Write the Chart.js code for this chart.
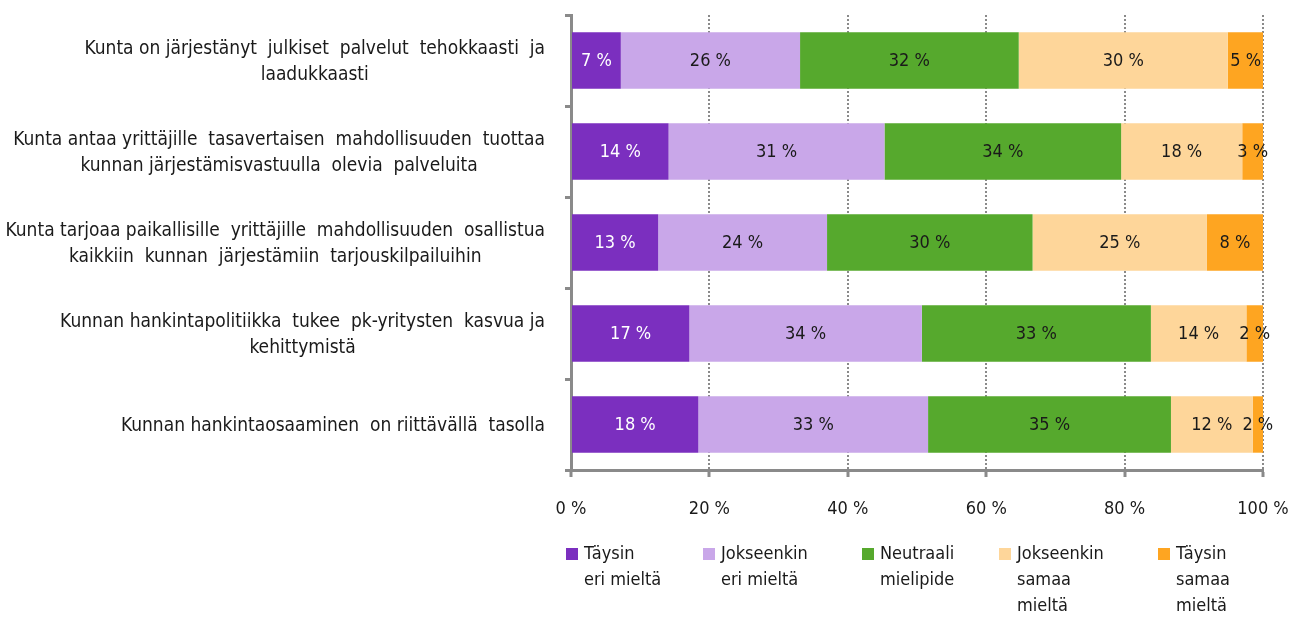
<!DOCTYPE html>
<html>
<head>
<meta charset="utf-8">
<script src="https://cdn.jsdelivr.net/npm/chart.js@4"></script>
<style>
  html, body { margin: 0; padding: 0; background: #fff; }
  #wrap { position: relative; width: 1303px; height: 617px; }
  #legend { position: absolute; top: 540px; left: 0; width: 1303px; height: 77px; }
  .item { position: absolute; top: 0; display: flex; align-items: flex-start; }
  .box { width: 12px; height: 12px; margin-top: 8px; margin-right: 6px; }
  .txt { font: 18px "Liberation Sans Narrow", "DejaVu Sans Condensed", sans-serif; line-height: 26px; color: #1a1a1a; }
</style>
</head>
<body>
<div id="wrap">
  <canvas id="chart" width="1303" height="617"></canvas>
  <div id="legend"></div>
</div>
<script>
const FONT = '"Liberation Sans Narrow", "DejaVu Sans Condensed", sans-serif'

const categories = [
  ["Kunta on järjestänyt  julkiset  palvelut  tehokkaasti  ja", "laadukkaasti"],
  ["Kunta antaa yrittäjille  tasavertaisen  mahdollisuuden  tuottaa", "kunnan järjestämisvastuulla  olevia  palveluita"],
  ["Kunta tarjoaa paikallisille  yrittäjille  mahdollisuuden  osallistua", "kaikkiin  kunnan  järjestämiin  tarjouskilpailuihin"],
  ["Kunnan hankintapolitiikka  tukee  pk-yritysten  kasvua ja", "kehittymistä"],
  ["Kunnan hankintaosaaminen  on riittävällä  tasolla"],
]

const seriesNames = [
  ["Täysin", "eri mieltä"],
  ["Jokseenkin", "eri mieltä"],
  ["Neutraali", "mielipide"],
  ["Jokseenkin", "samaa", "mieltä"],
  ["Täysin", "samaa", "mieltä"],
]
const seriesColors = ["#7b2fbf", "#c9a7e9", "#56a92d", "#fed69a", "#fea521"]

const taysinEri = [7.2, 14.1, 12.6, 17.1, 18.4]
const jokseenkinEri = [25.9, 31.2, 24.4, 33.6, 33.2]
const neutraali = [31.6, 34.2, 29.7, 33.1, 35.1]
const jokseenkinSamaa = [30.2, 17.5, 25.2, 13.8, 11.8]
const taysinSamaa = [5.2, 3.0, 8.1, 2.4, 1.5]

const xTicks = [0, 20, 40, 60, 80, 100]

const seriesValues = [taysinEri, jokseenkinEri, neutraali, jokseenkinSamaa, taysinSamaa]
const axisGrey = "#8a8a8a"

const valueLabels = {
  id: "valueLabels",
  afterDatasetsDraw(chart) {
    const ctx = chart.ctx
    ctx.save()
    ctx.font = `18px ${FONT}`
    ctx.textAlign = "center"
    ctx.textBaseline = "middle"
    chart.data.datasets.forEach((ds, di) => {
      const meta = chart.getDatasetMeta(di)
      meta.data.forEach((bar, i) => {
        const cx = (bar.x + bar.base) / 2
        ctx.fillStyle = di === 0 ? "#ffffff" : "#1a1a1a"
        ctx.fillText(`${Math.round(ds.data[i])} %`, cx, bar.y + 1)
      })
    })
    ctx.restore()
  },
}

// category labels: right aligned block, lines centred on each other
const categoryLabels = {
  id: "categoryLabels",
  afterDraw(chart) {
    const ctx = chart.ctx
    const scale = chart.scales.y
    const right = scale.right - 26
    const sx = 0.95
    ctx.save()
    ctx.font = `20px ${FONT}`
    ctx.fillStyle = "#1a1a1a"
    ctx.textAlign = "center"
    ctx.textBaseline = "middle"
    categories.forEach((lines, i) => {
      const y = scale.getPixelForValue(i)
      const maxW = Math.max(...lines.map((l) => ctx.measureText(l).width)) * sx
      const cx = right - maxW / 2
      const lh = 26
      const top = y - ((lines.length - 1) * lh) / 2
      lines.forEach((l, k) => {
        ctx.save()
        ctx.translate(cx, top + k * lh + 1)
        ctx.scale(sx, 1)
        ctx.fillText(l, 0, 0)
        ctx.restore()
      })
    })
    ctx.restore()
  },
}

new Chart(document.getElementById("chart"), {
  type: "bar",
  data: {
    labels: categories.map((c) => c.join(" ")),
    datasets: seriesValues.map((data, i) => ({
      label: seriesNames[i].join(" "),
      data,
      backgroundColor: seriesColors[i],
      borderWidth: 0,
      barPercentage: 0.62,
      categoryPercentage: 1,
    })),
  },
  options: {
    indexAxis: "y",
    responsive: false,
    animation: false,
    layout: { padding: { top: 15, right: 40, bottom: 0, left: 0 } },
    plugins: { legend: { display: false }, tooltip: { enabled: false } },
    scales: {
      x: {
        stacked: true,
        min: 0,
        max: 100,
        afterBuildTicks: (scale) => { scale.ticks = xTicks.map((v) => ({ value: v })) },
        afterFit: (scale) => {
          scale.height = 147
          scale.paddingLeft = 0
          scale.paddingRight = 0
        },
        ticks: { callback: (v) => `${v} %`, color: "#1a1a1a", font: { family: FONT, size: 18 }, padding: 22, maxRotation: 0 },
        grid: {
          color: (c) => (c.tick && c.tick.value === 0 ? "rgba(0,0,0,0)" : axisGrey),
          lineWidth: 2,
          tickColor: axisGrey,
          tickWidth: 3,
          tickLength: 7,
        },
        border: { color: axisGrey, width: 3, dash: [2, 2] },
      },
      y: {
        stacked: true,
        offset: true,
        afterFit: (scale) => { scale.width = 571 },
        ticks: { display: false },
        grid: { drawOnChartArea: false, offset: true, color: axisGrey, tickColor: axisGrey, lineWidth: 3, tickLength: 6 },
        border: { color: axisGrey, width: 3 },
      },
    },
  },
  plugins: [valueLabels, categoryLabels],
})

const legendLeft = [566, 703, 862, 999, 1158]
const legend = document.getElementById("legend")
seriesNames.forEach((lines, i) => {
  const item = document.createElement("div")
  item.className = "item"
  item.style.left = `${legendLeft[i]}px`
  item.innerHTML = `<div class="box" style="background:${seriesColors[i]}"></div><div class="txt">${lines.join("<br>")}</div>`
  legend.appendChild(item)
})
</script>
</body>
</html>
